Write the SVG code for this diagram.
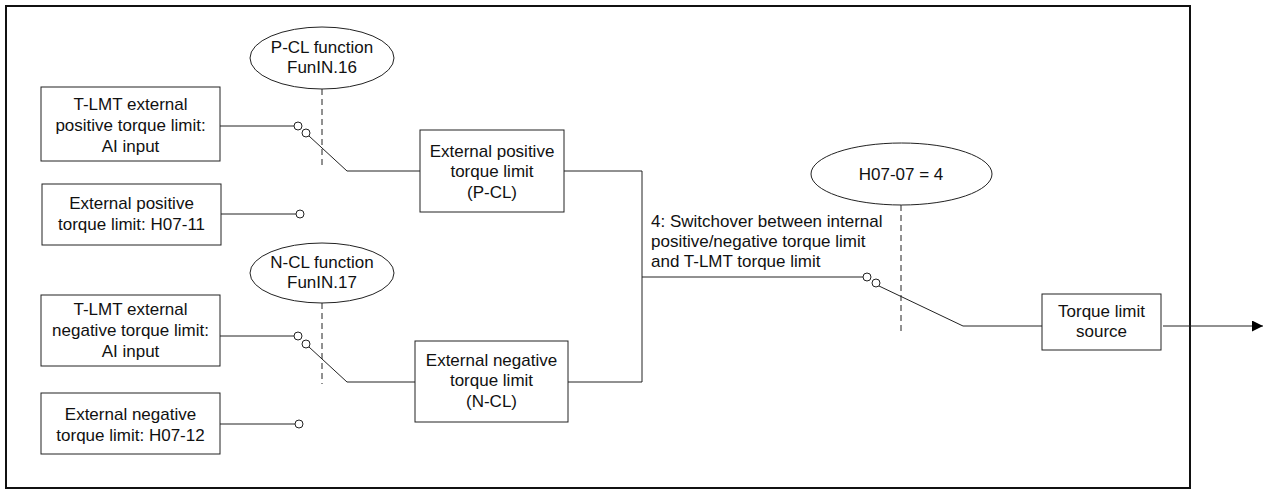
<svg xmlns="http://www.w3.org/2000/svg" width="1266" height="494" viewBox="0 0 1266 494">
<defs>
<style>
.box{fill:#fff;stroke:#222;stroke-width:1}
.ell{fill:#fff;stroke:#222;stroke-width:1}
.t{font-family:"Liberation Sans",Arial,sans-serif;font-size:17px;fill:#111;text-anchor:middle}
.tl{font-family:"Liberation Sans",Arial,sans-serif;font-size:17px;fill:#111;text-anchor:start}
.ln{fill:none;stroke:#222;stroke-width:1}
.dash{fill:none;stroke:#222;stroke-width:1;stroke-dasharray:6,4}
.sw{fill:#fff;stroke:#222;stroke-width:1}
</style>
<marker id="arr" viewBox="0 0 10 10" refX="10" refY="5" markerWidth="13" markerHeight="11" markerUnits="userSpaceOnUse" orient="auto">
<path d="M0,0 L10,5 L0,10 z" fill="#000"/>
</marker>
</defs>
<rect x="0" y="0" width="1266" height="494" fill="#fff"/>
<rect id="frame" x="6" y="6" width="1184" height="482" fill="none" stroke="#111" stroke-width="2"/>

<g id="connectors">
<!-- positive AI switch -->
<line class="ln" x1="220" y1="126" x2="294" y2="126"/>
<polyline class="ln" points="309,136 347,171 420,171"/>
<line class="dash" x1="322" y1="89" x2="322" y2="168"/>
<line class="ln" x1="221" y1="214" x2="296" y2="214"/>
<!-- negative AI switch -->
<line class="ln" x1="220" y1="336" x2="294" y2="336"/>
<polyline class="ln" points="309,347 347,382 415,382"/>
<line class="dash" x1="322" y1="303" x2="322" y2="384"/>
<line class="ln" x1="220" y1="424" x2="295" y2="424"/>
<!-- merge -->
<polyline class="ln" points="564,171 642,171 642,382 568,382"/>
<line class="ln" x1="642" y1="277" x2="863" y2="277"/>
<!-- output switch -->
<polyline class="ln" points="879,286 963,326 1042,326"/>
<line class="dash" x1="901" y1="205" x2="901" y2="333"/>
<line class="ln" x1="1163" y1="326" x2="1263" y2="326" marker-end="url(#arr)"/>
<!-- switch contacts -->
<circle class="sw" cx="298" cy="126" r="4"/>
<circle class="sw" cx="306" cy="133" r="4"/>
<circle class="sw" cx="300" cy="214" r="4"/>
<circle class="sw" cx="298" cy="336" r="4"/>
<circle class="sw" cx="306" cy="344" r="4"/>
<circle class="sw" cx="299" cy="424" r="4"/>
<circle class="sw" cx="867" cy="277" r="4"/>
<circle class="sw" cx="876" cy="283" r="4"/>
</g>

<g id="pcl-func">
<ellipse class="ell" cx="322" cy="58" rx="72" ry="31"/>
<text class="t" x="322" y="53">P-CL function</text>
<text class="t" x="322" y="73">FunIN.16</text>
</g>
<g id="ncl-func">
<ellipse class="ell" cx="322" cy="273" rx="72" ry="30"/>
<text class="t" x="322" y="268">N-CL function</text>
<text class="t" x="322" y="288">FunIN.17</text>
</g>
<g id="h0707">
<ellipse class="ell" cx="901.5" cy="174" rx="90.5" ry="31"/>
<text class="t" x="901" y="180">H07-07 = 4</text>
</g>

<g id="tlmt-pos">
<rect class="box" x="41" y="87" width="179" height="74"/>
<text class="t" x="130.5" y="110">T-LMT external</text>
<text class="t" x="130.5" y="131">positive torque limit:</text>
<text class="t" x="130.5" y="152">AI input</text>
</g>
<g id="ext-pos">
<rect class="box" x="42" y="184" width="179" height="61"/>
<text class="t" x="131.5" y="209">External positive</text>
<text class="t" x="131.5" y="230">torque limit: H07-11</text>
</g>
<g id="tlmt-neg">
<rect class="box" x="41" y="295" width="179" height="71"/>
<text class="t" x="130.5" y="315">T-LMT external</text>
<text class="t" x="130.5" y="336">negative torque limit:</text>
<text class="t" x="130.5" y="357">AI input</text>
</g>
<g id="ext-neg">
<rect class="box" x="41" y="393" width="179" height="61"/>
<text class="t" x="130.5" y="420">External negative</text>
<text class="t" x="130.5" y="441">torque limit: H07-12</text>
</g>

<g id="pcl">
<rect class="box" x="420" y="130" width="144" height="82"/>
<text class="t" x="492" y="157">External positive</text>
<text class="t" x="492" y="177">torque limit</text>
<text class="t" x="492" y="198">(P-CL)</text>
</g>
<g id="ncl">
<rect class="box" x="415" y="341" width="153" height="81"/>
<text class="t" x="491.5" y="366">External negative</text>
<text class="t" x="491.5" y="386">torque limit</text>
<text class="t" x="491.5" y="407">(N-CL)</text>
</g>

<g id="switch-label">
<text class="tl" x="651" y="227">4: Switchover between internal</text>
<text class="tl" x="651" y="247">positive/negative torque limit</text>
<text class="tl" x="651" y="267">and T-LMT torque limit</text>
</g>

<g id="source">
<rect class="box" x="1042" y="294" width="119" height="56"/>
<text class="t" x="1101.5" y="317">Torque limit</text>
<text class="t" x="1101.5" y="337">source</text>
</g>
</svg>
